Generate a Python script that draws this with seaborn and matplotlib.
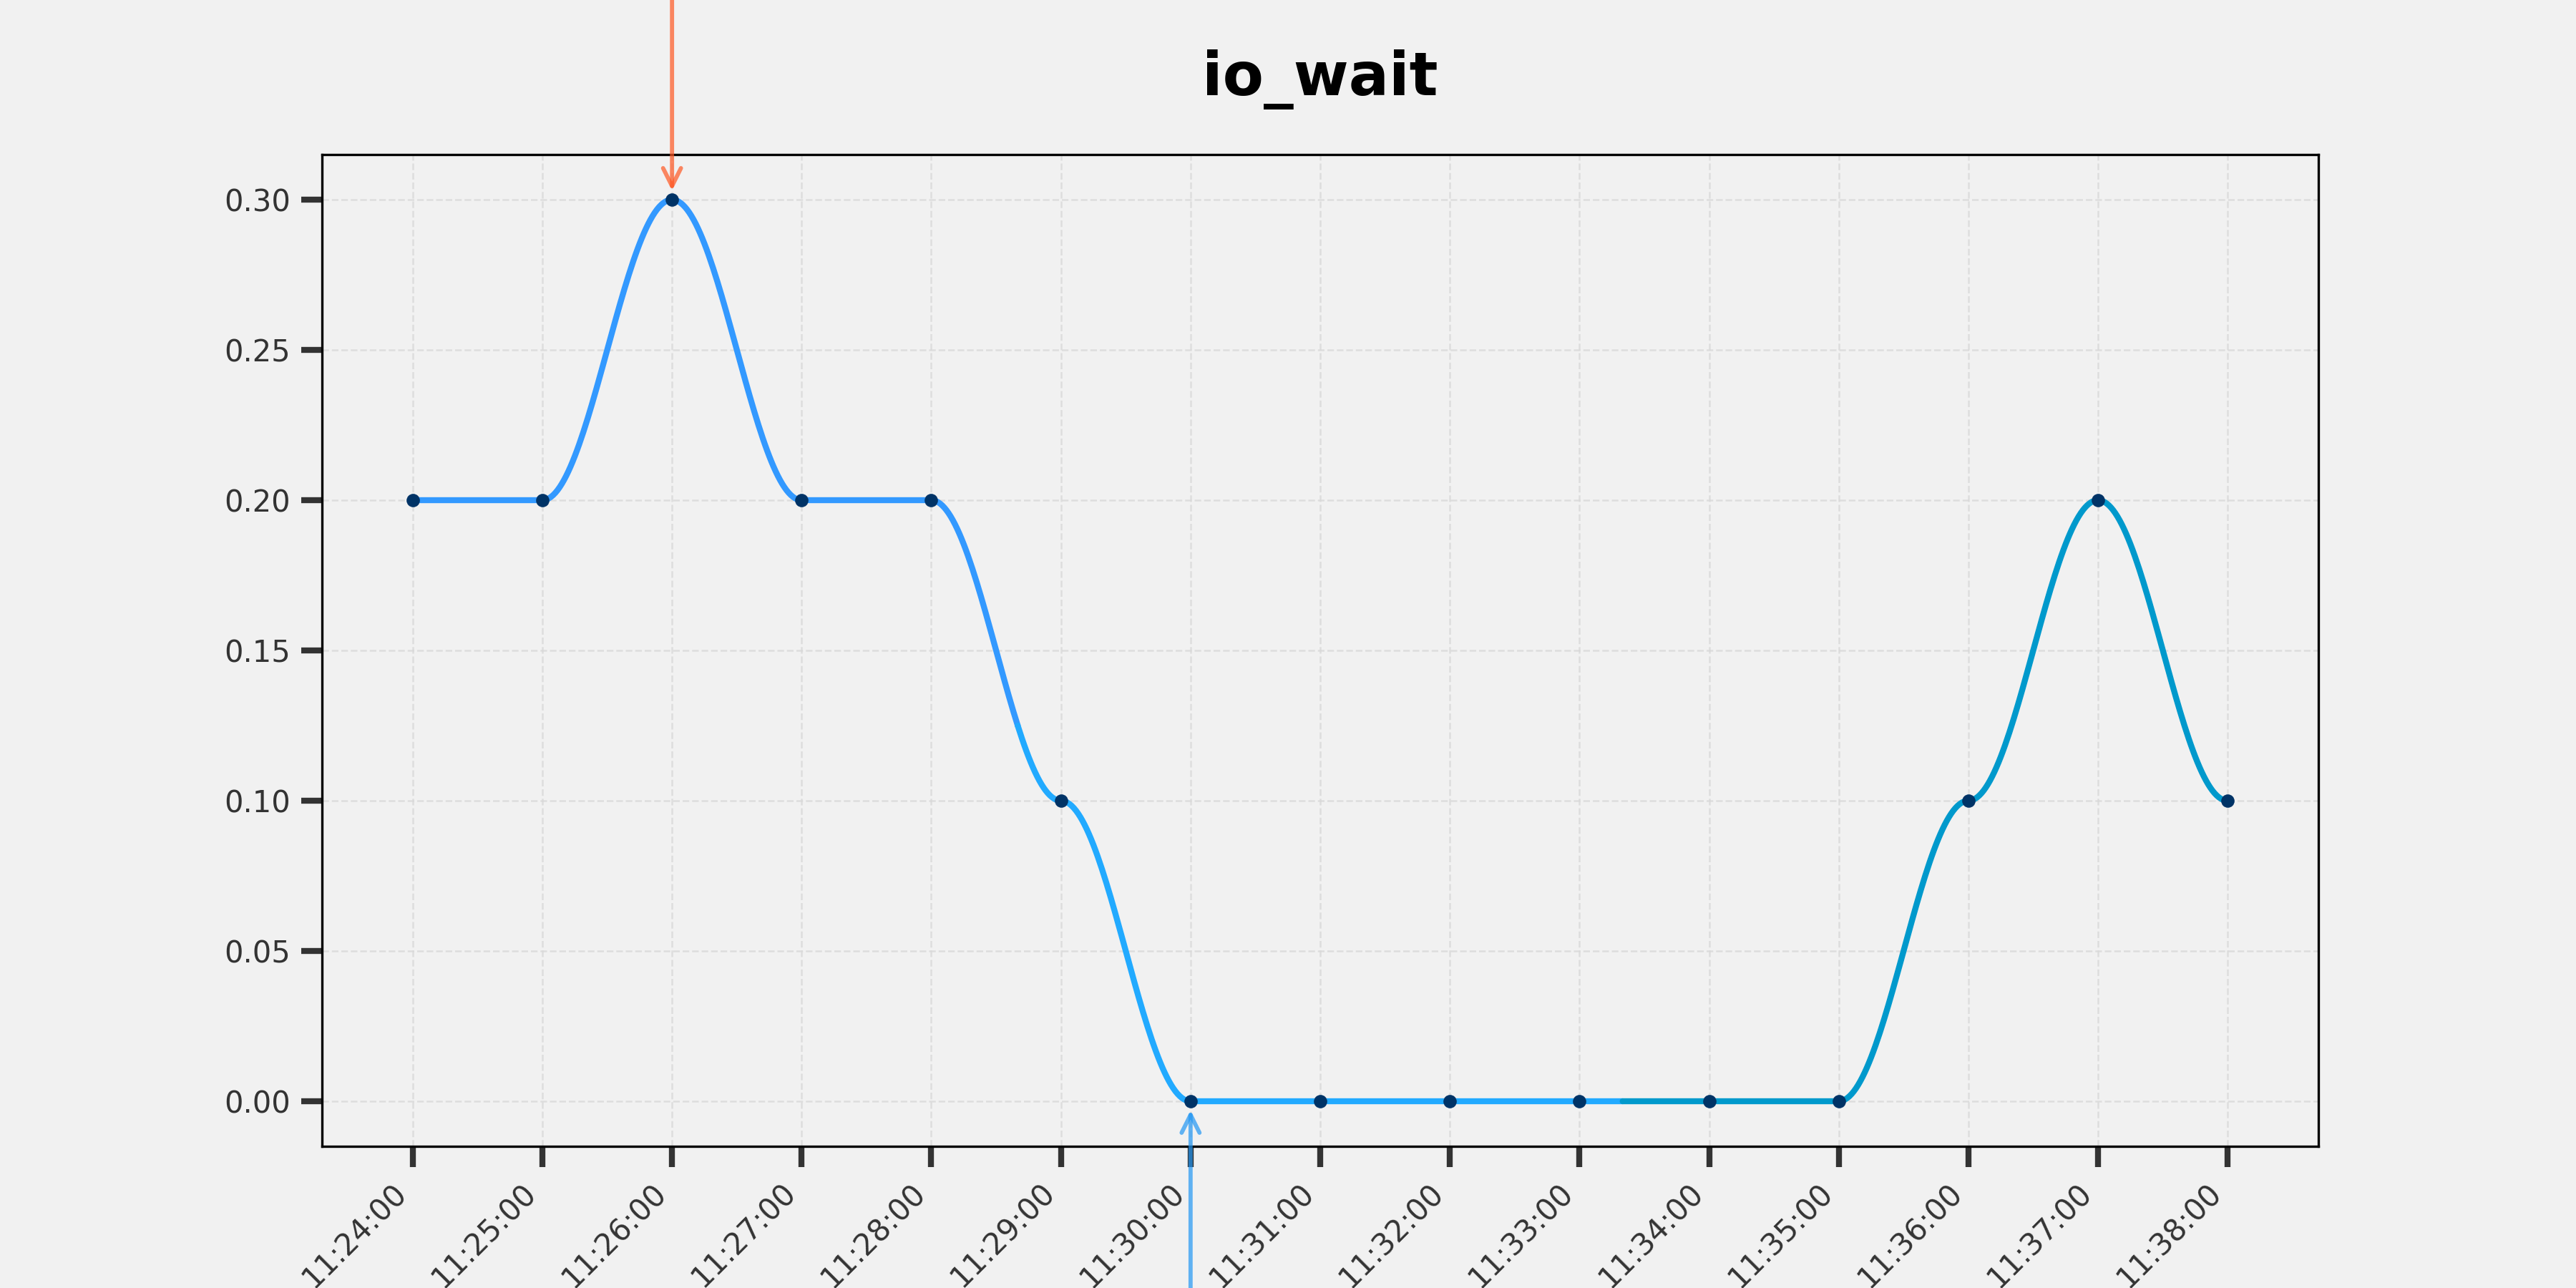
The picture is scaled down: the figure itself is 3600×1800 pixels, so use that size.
import numpy as np
import pandas as pd
import seaborn as sns
import matplotlib.pyplot as plt

# io_wait samples, one per minute
times = ['11:24:00', '11:25:00', '11:26:00', '11:27:00', '11:28:00',
         '11:29:00', '11:30:00', '11:31:00', '11:32:00', '11:33:00',
         '11:34:00', '11:35:00', '11:36:00', '11:37:00', '11:38:00']
io_wait = [0.20, 0.20, 0.30, 0.20, 0.20,
           0.10, 0.00, 0.00, 0.00, 0.00,
           0.00, 0.00, 0.10, 0.20, 0.10]
yticks = [0.00, 0.05, 0.10, 0.15, 0.20, 0.25, 0.30]
seg_colors = ['#3399ff', '#22aaff', '#0099cc']

bg = '#f1f1f1'
sns.set_style('ticks')
plt.rcParams['font.family'] = ['DejaVu Sans']

df = pd.DataFrame({'time': times, 'value': io_wait})
df['x'] = np.arange(len(df))

# smooth (cosine eased) curve through the samples, just for drawing
fine = []
for i in range(len(df) - 1):
    t = np.linspace(0, 1, 60, endpoint=False)
    w = (1 - np.cos(np.pi * t)) / 2
    y0, y1 = df['value'].iloc[i], df['value'].iloc[i + 1]
    fine.append(pd.DataFrame({'x': i + t, 'y': y0 + (y1 - y0) * w}))
fine.append(pd.DataFrame({'x': [df['x'].iloc[-1]], 'y': [df['value'].iloc[-1]]}))
curve = pd.concat(fine, ignore_index=True)

fig, ax = plt.subplots(figsize=(12, 6), dpi=300)
fig.patch.set_facecolor(bg)
ax.set_facecolor(bg)

# three colour bands along the curve
n = len(curve)
edges = [0, n // 3, 2 * n // 3, n - 1]
for k, c in enumerate(seg_colors):
    part = curve.iloc[edges[k]:edges[k + 1] + 1]
    sns.lineplot(data=part, x='x', y='y', color=c, linewidth=2.0,
                 sort=False, estimator=None, ax=ax, zorder=3)

sns.scatterplot(data=df, x='x', y='value', color='#003366', s=20,
                linewidth=0, ax=ax, zorder=4)

# max / min markers
imax = int(np.argmax(io_wait))
imin = int(np.argmin(io_wait))
ax.annotate('', xy=(imax, io_wait[imax]), xytext=(0, 80),
            textcoords='offset points', annotation_clip=False,
            arrowprops=dict(arrowstyle='->', color='#ff5722', alpha=0.7,
                            lw=1.4, mutation_scale=15, shrinkA=0, shrinkB=3))
ax.annotate('', xy=(imin, io_wait[imin]), xytext=(0, -75),
            textcoords='offset points', annotation_clip=False,
            arrowprops=dict(arrowstyle='->', color='#2196f3', alpha=0.7,
                            lw=1.4, mutation_scale=15, shrinkA=0, shrinkB=3))

ax.set_xticks(df['x'])
ax.set_xticklabels(times, rotation=45, ha='right')
ax.set_yticks(yticks)
ax.set_yticklabels([f'{v:.2f}' for v in yticks])
ax.tick_params(axis='both', length=7, width=2, color='#333333',
               labelcolor='#333333', labelsize=10)
ax.grid(True, linestyle='--', color='#d9d9d9', linewidth=0.6, alpha=0.8)
ax.set_axisbelow(True)
for s in ax.spines.values():
    s.set_visible(True)
    s.set_color('black')
    s.set_linewidth(0.8)

ax.set_xlabel('')
ax.set_ylabel('')
ax.set_title('io_wait', fontsize=20, fontweight='bold', color='black', pad=20)

fig.savefig('out.png', dpi=300, facecolor=bg)
